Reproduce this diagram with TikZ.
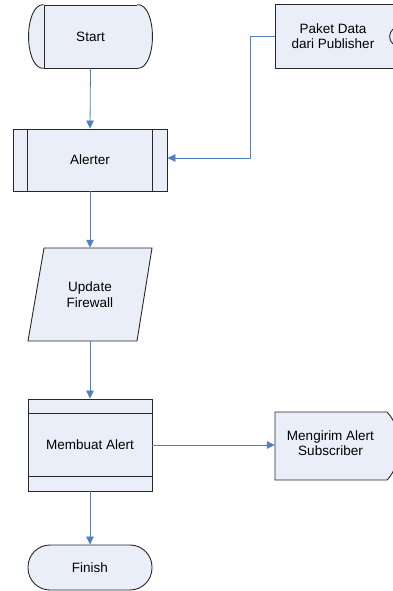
\documentclass[tikz,border=0pt]{standalone}
\usepackage{fontspec}
\setmainfont{Liberation Sans}
\usetikzlibrary{arrows.meta,positioning,calc}

\definecolor{boxfill}{RGB}{233,238,248}
\definecolor{boxline}{RGB}{40,40,40}
\definecolor{flowline}{RGB}{79,129,189}

\begin{document}
\begin{tikzpicture}[%
    x=1pt,
    y=-1pt,
    every node/.style={font={\fontsize{13.5}{15.5}\selectfont}, align=center},
    box/.style={draw=boxline, fill=boxfill, line width=0.9pt},
    blank/.style={inner sep=0pt},
    flow/.style={draw=flowline, line width=0.8pt, -{Triangle[length=8pt,width=7.5pt]}}
    ]

    \useasboundingbox (0,0) rectangle (392,591);

    % terminals and process boxes
    \node at (90.5,36.5) [box, minimum width=93pt, minimum height=63pt] (start) {Start};
        \draw [box] (start.north east) .. controls +(20,0) and +(20,0) .. (start.south east);
        \draw [box] (start.north west) .. controls +(-20,0) and +(-20,0) .. (start.south west);

    \node at (90,160) [box, minimum width=154pt, minimum height=62pt] (alerter) {Alerter};
        \draw [boxline, line width=0.9pt] ($(alerter.north west)+(15,0)$) -- ($(alerter.south west)+(15,0)$);
        \draw [boxline, line width=0.9pt] ($(alerter.north east)+(-15,0)$) -- ($(alerter.south east)+(-15,0)$);

    \node at (90,294.5) [blank, minimum width=108pt, minimum height=93pt] (update) {};
        \draw [box] (44,248) -- (152,248) -- (137,341) -- (28,341) -- cycle;
        \node at (update.center) {Update\\Firewall};

    \node at (90,445) [box, minimum width=124pt, minimum height=92pt] (membuat) {Membuat Alert};
        \draw [boxline, line width=0.9pt] ($(membuat.north west)+(0,15)$) -- ($(membuat.north east)+(0,15)$);
        \draw [boxline, line width=0.9pt] ($(membuat.south west)+(0,-15)$) -- ($(membuat.south east)+(0,-15)$);

    \node at (90,567.5) [box, rounded corners=22pt, minimum width=124pt, minimum height=45pt] (finish) {Finish};

    % right column
    \node at (333,36) [blank, minimum width=116pt, minimum height=64pt] (paket) {};
        \draw [box] (275,4) -- (402,4) -- (402,68) -- (275,68) -- cycle;
        \draw [boxline, line width=0.9pt] (393,29) .. controls (388.5,33) and (388.5,40) .. (393,44);
        \node at (paket.center) {Paket Data\\dari Publisher};

    \node at (332.5,446) [blank, minimum width=115pt, minimum height=68pt] (kirim) {};
        \draw [box] (275,412) -- (387,412) .. controls (403,428) and (403,464) .. (387,480) -- (275,480) -- cycle;
        \node at ($(kirim.center)+(-2,-3)$) {Mengirim Alert\\Subscriber};

    % connectors
    \draw [flow] (start.south) -- (alerter.north);
    \draw [flow] (alerter.south) -- (update.north);
    \draw [flow] (update.south) -- (membuat.north);
    \draw [flow] (membuat.south) -- (finish.north);
    \draw [flow] (membuat.east) -- (membuat.east -| kirim.west);
    \draw [flow] (paket.west) -- ++(-24,0) |- ($(alerter.east)+(0,-2)$);
\end{tikzpicture}
\end{document}
